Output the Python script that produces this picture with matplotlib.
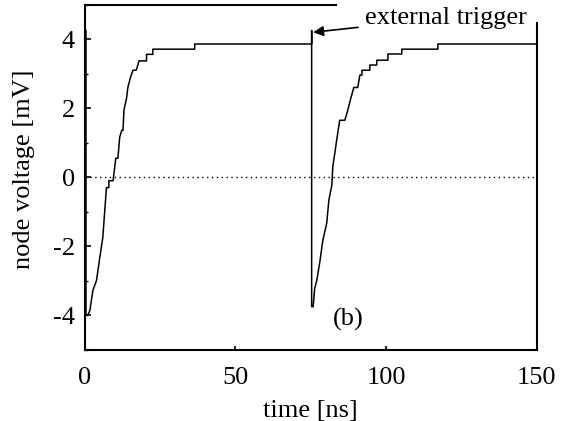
import numpy as np
import matplotlib
matplotlib.use("Agg")
import matplotlib.pyplot as plt
from matplotlib.ticker import MultipleLocator

plt.rcParams['font.family'] = ['Liberation Serif', 'DejaVu Serif']

# node voltage trace (vertices of the stepped line)
time_ns = [0.4, 0.4, 1.0, 1.7, 2.7, 3.9, 5.0, 6.0, 7.2, 8.0, 8.0, 9.4, 10.3, 11.0,
           11.6, 12.3, 12.7, 13.0, 13.9, 14.3, 15.2, 16.0, 17.1, 18.0, 20.5, 20.5,
           22.6, 22.6, 36.5, 36.5, 75.3, 75.3, 75.3, 75.8, 76.3, 77.0, 78.0, 79.0,
           80.3, 81.0, 82.0, 82.3, 83.6, 84.6, 86.3, 87.0, 88.3, 89.3, 90.6, 91.3,
           92.0, 92.0, 94.6, 94.6, 96.9, 96.9, 100.6, 100.6, 105.2, 105.2, 117.2,
           117.2, 150.0]
voltage_mv = [4.25, -4.0, -4.0, -3.86, -3.28, -2.99, -2.32, -1.74, -0.3, -0.3, -0.1,
              -0.1, 0.55, 0.55, 1.16, 1.36, 1.36, 1.94, 2.3, 2.6, 2.9, 3.1, 3.1,
              3.37, 3.37, 3.56, 3.56, 3.71, 3.71, 3.86, 3.86, 4.25, -3.75, -3.75,
              -3.22, -2.99, -2.46, -1.83, -1.33, -0.67, -0.23, 0.29, 1.07, 1.65,
              1.65, 1.85, 2.29, 2.6, 2.6, 2.96, 2.96, 3.1, 3.1, 3.25, 3.25, 3.39,
              3.39, 3.57, 3.57, 3.71, 3.71, 3.86, 3.86]

x_ticks = [0, 50, 100, 150]
y_ticks = [-4, -2, 0, 2, 4]

FS = 19

fig = plt.figure(figsize=(5.65, 4.21), dpi=100)
ax = fig.add_axes([0.150, 0.169, 0.800, 0.820])

ax.plot(time_ns, voltage_mv, color='black', lw=1.1)
ax.axhline(0, color='black', lw=1.0, ls=(0, (1, 2.5)))

ax.set_xlim(0, 150)
ax.set_ylim(-5, 5)
ax.set_xticks(x_ticks)
ax.set_yticks(y_ticks)
ax.yaxis.set_minor_locator(MultipleLocator(1))
ax.tick_params(direction='in', labelsize=FS, length=4.5, width=1.2, pad=7)
ax.tick_params(which='minor', direction='in', length=2.5, width=1.0)
ax.tick_params(axis='x', length=3, pad=12)
ax.set_yticklabels([str(v) for v in y_ticks])

for s in ax.spines.values():
    s.set_linewidth(1.5)
# top and right frame stop short where the label sits
ax.spines['top'].set_bounds(0, 83.3)
ax.spines['right'].set_bounds(-5, 4.46)

ax.set_xlabel('time [ns]', fontsize=FS, labelpad=8)
ax.set_ylabel('node voltage [mV]', fontsize=FS, labelpad=13)
ax.yaxis.label.set_y(0.522)

ax.annotate('external trigger', xy=(75.8, 4.2), xytext=(93, 4.62),
            fontsize=FS, va='center', ha='left',
            arrowprops=dict(arrowstyle='-|>', color='black', lw=1.2,
                            shrinkA=3, shrinkB=0, mutation_scale=15))
ax.text(87.3, -4.12, '(b)', fontsize=FS, ha='center', va='center')

fig.savefig('out.png', dpi=100)
